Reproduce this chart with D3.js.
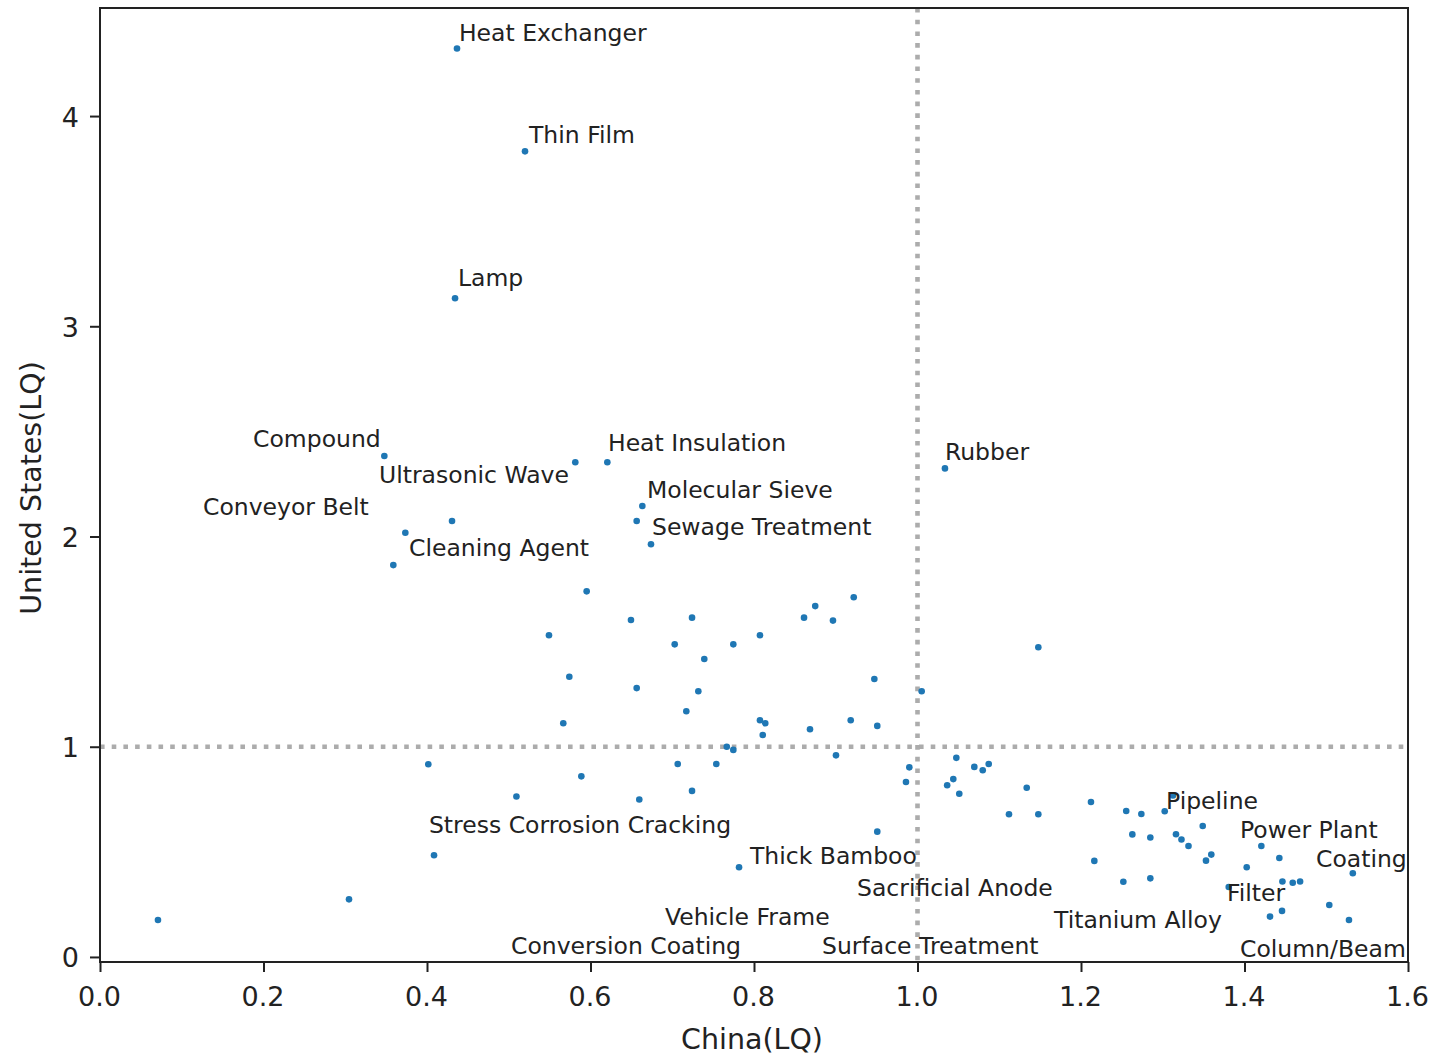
<!DOCTYPE html>
<html>
<head>
<meta charset="utf-8">
<script src="https://cdn.jsdelivr.net/npm/d3@7"></script>
<style>
  html, body { margin: 0; padding: 0; background: #fff; }
  svg { display: block; }
  text { font-family: "DejaVu Sans", sans-serif; fill: #222; }
</style>
</head>
<body>
<svg id="chart" width="1429" height="1055"></svg>
<script>
// Location quotients per technology topic: China (x) vs United States (y)
const chinaLQ = [
  0.4367, 0.5199, 0.4343, 0.3478, 0.5814, 0.6206, 1.0336, 0.6634, 0.6565, 0.4306,
  0.3735, 0.6740, 0.3588, 0.5953, 0.9220, 0.8749, 0.7242, 0.8612, 0.8966, 0.6495,
  0.5492, 0.8073, 0.7030, 0.7747, 1.1478, 0.7392, 0.5741, 0.9472, 0.6565, 0.7319,
  1.0051, 0.7172, 0.5667, 0.8073, 0.8138, 0.9183, 0.9508, 0.8685, 0.8107, 0.7667,
  0.7747, 0.9003, 0.4016, 0.7067, 0.7539, 0.9900, 1.0475, 1.0695, 1.0798, 1.0871,
  0.5888, 0.9859, 1.0363, 1.0438, 1.0511, 1.1336, 0.5094, 0.7242, 0.6597, 1.2122,
  1.1119, 1.1478, 0.9508, 0.4086, 0.7817, 0.3046, 0.0709, 1.2553, 1.2738, 1.3024,
  1.3125, 1.3489, 1.2628, 1.2848, 1.3162, 1.3229, 1.3315, 1.3594, 1.3529, 1.2163,
  1.4027, 1.4206, 1.4426, 1.2518, 1.2848, 1.3807, 1.4464, 1.4590, 1.4680, 1.5325,
  1.5037, 1.4459, 1.4312, 1.5278
];
const usLQ = [
  4.321, 3.832, 3.133, 2.383, 2.353, 2.353, 2.324, 2.145, 2.074, 2.074,
  2.018, 1.963, 1.864, 1.739, 1.711, 1.669, 1.614, 1.614, 1.600, 1.603,
  1.530, 1.530, 1.487, 1.487, 1.473, 1.417, 1.333, 1.322, 1.279, 1.264,
  1.264, 1.169, 1.112, 1.126, 1.112, 1.126, 1.099, 1.083, 1.056, 1.000,
  0.985, 0.959, 0.917, 0.918, 0.918, 0.902, 0.947, 0.904, 0.888, 0.918,
  0.859, 0.832, 0.817, 0.846, 0.776, 0.805, 0.763, 0.790, 0.749, 0.737,
  0.679, 0.679, 0.596, 0.484, 0.427, 0.274, 0.176, 0.694, 0.680, 0.693,
  0.768, 0.623, 0.583, 0.568, 0.584, 0.559, 0.528, 0.487, 0.458, 0.457,
  0.427, 0.528, 0.471, 0.358, 0.374, 0.333, 0.359, 0.353, 0.359, 0.398,
  0.247, 0.219, 0.192, 0.176
];

// Topic names and where each annotation sits (data coordinates, left/baseline)
const labelNames = [
  "Heat Exchanger", "Thin Film", "Lamp", "Compound", "Ultrasonic Wave",
  "Conveyor Belt", "Cleaning Agent", "Heat Insulation", "Molecular Sieve",
  "Sewage Treatment", "Rubber", "Stress Corrosion Cracking", "Thick Bamboo",
  "Sacrificial Anode", "Vehicle Frame", "Conversion Coating", "Surface Treatment",
  "Titanium Alloy", "Pipeline", "Power Plant", "Coating", "Filter", "Column/Beam"
];
const labelX = [
  0.4391, 0.5248, 0.4379, 0.1872, 0.3413,
  0.1260, 0.3780, 0.6214, 0.6691,
  0.6752, 1.0336, 0.4024, 0.7951,
  0.9260, 0.6911, 0.5028, 0.8832,
  1.1670, 1.3040, 1.3945, 1.4875, 1.3786, 1.3945
];
const labelY = [
  4.357, 3.872, 3.191, 2.426, 2.254,
  2.100, 1.907, 2.409, 2.185,
  2.005, 2.366, 0.592, 0.442,
  0.288, 0.150, 0.014, 0.014,
  0.136, 0.704, 0.566, 0.426, 0.264, 0.000
];

// Axis settings
const xDomain = [0, 1.6];
const yDomain = [-0.024, 4.514];
const xTicks = [0, 0.2, 0.4, 0.6, 0.8, 1.0, 1.2, 1.4, 1.6];
const yTicks = [0, 1, 2, 3, 4];
const xTitle = "China(LQ)";
const yTitle = "United States(LQ)";
const refLine = 1.0;

const W = 1429, H = 1055;
const margin = { top: 8, right: 21, bottom: 93, left: 100 };
const iw = W - margin.left - margin.right;
const ih = H - margin.top - margin.bottom;

const svg = d3.select("#chart");
const g = svg.append("g").attr("transform", `translate(${margin.left},${margin.top})`);

const x = d3.scaleLinear().domain(xDomain).range([0, iw]);
const y = d3.scaleLinear().domain(yDomain).range([ih, 0]);

// Reference lines at LQ = 1
g.append("line")
  .attr("x1", 0).attr("x2", iw)
  .attr("y1", y(refLine)).attr("y2", y(refLine))
  .attr("stroke", "#acacac").attr("stroke-width", 4.4)
  .attr("stroke-dasharray", "4.6,7.1");
g.append("line")
  .attr("x1", x(refLine)).attr("x2", x(refLine))
  .attr("y1", 0).attr("y2", ih)
  .attr("stroke", "#acacac").attr("stroke-width", 4.6)
  .attr("stroke-dasharray", "4.6,7.1");

// Points
const pts = chinaLQ.map((v, i) => ({ cx: v, us: usLQ[i] }));
g.append("g").selectAll("circle")
  .data(pts)
  .join("circle")
  .attr("cx", d => x(d.cx))
  .attr("cy", d => y(d.us))
  .attr("r", 3.3)
  .attr("fill", "#1f77b4");

// Annotations
const labels = labelNames.map((n, i) => ({ name: n, lx: labelX[i], ly: labelY[i] }));
g.append("g").selectAll("text")
  .data(labels)
  .join("text")
  .attr("x", d => x(d.lx))
  .attr("y", d => y(d.ly))
  .attr("font-size", 23.5)
  .text(d => d.name);

// Axes
const xAxis = d3.axisBottom(x).tickValues(xTicks).tickFormat(d3.format(".1f"))
  .tickSizeInner(10).tickSizeOuter(0).tickPadding(6);
const yAxis = d3.axisLeft(y).tickValues(yTicks).tickFormat(d3.format("d"))
  .tickSizeInner(10).tickSizeOuter(0).tickPadding(8);

const gx = g.append("g").attr("transform", `translate(0,${ih})`).call(xAxis);
const gy = g.append("g").call(yAxis);
[gx, gy].forEach(a => {
  a.select(".domain").remove();
  a.selectAll(".tick line").attr("stroke", "#222").attr("stroke-width", 2);
  a.selectAll(".tick text").attr("font-size", 27)
    .attr("font-family", "DejaVu Sans, sans-serif").attr("fill", "#222");
});
gx.selectAll(".tick text").attr("dy", null).attr("y", 44).attr("x", -1);
gy.selectAll(".tick text").attr("dy", null).attr("y", 10).attr("x", -21);

// Frame
g.append("rect")
  .attr("x", 0).attr("y", 0).attr("width", iw).attr("height", ih)
  .attr("fill", "none").attr("stroke", "#222").attr("stroke-width", 2);

// Axis titles
svg.append("text")
  .attr("x", margin.left + iw / 2 - 2).attr("y", 1049)
  .attr("text-anchor", "middle").attr("font-size", 28.5)
  .text(xTitle);
svg.append("text")
  .attr("transform", `translate(41,${margin.top + ih / 2 + 3}) rotate(-90)`)
  .attr("text-anchor", "middle").attr("font-size", 28.5)
  .text(yTitle);
</script>
</body>
</html>
